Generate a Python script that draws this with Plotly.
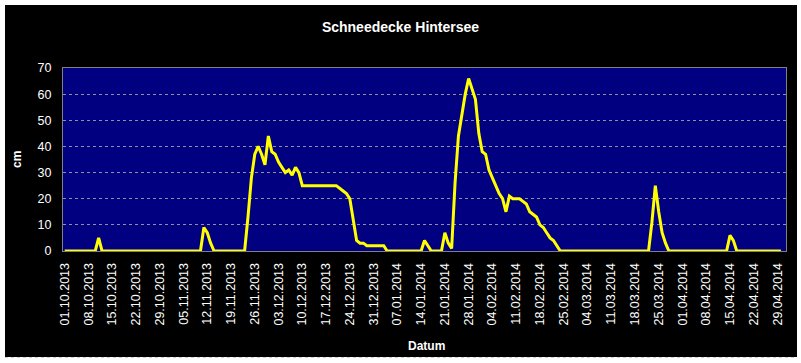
import pandas as pd
import plotly.graph_objects as go

# Daily snow depth (cm), Hintersee, 01.10.2013 - 30.04.2014
oct_2013 = [0, 0, 0, 0, 0, 0, 0, 0, 0, 0, 5, 0, 0, 0, 0, 0, 0, 0, 0, 0,
            0, 0, 0, 0, 0, 0, 0, 0, 0, 0, 0]
nov_2013 = [0, 0, 0, 0, 0, 0, 0, 0, 0, 0, 9, 7, 3, 0, 0, 0, 0, 0, 0, 0,
            0, 0, 0, 13, 28, 37, 40, 37, 33, 44]
dec_2013 = [38, 37, 34, 32, 30, 31, 29, 32, 30, 25, 25, 25, 25, 25, 25, 25, 25, 25, 25, 25,
            24, 23, 22, 20, 11, 4, 3, 3, 2, 2, 2]
jan_2014 = [2, 2, 2, 0, 0, 0, 0, 0, 0, 0, 0, 0, 0, 0, 4, 2, 0, 0, 0, 0,
            7, 3, 1, 26, 44, 52, 60, 66, 62, 58, 45]
feb_2014 = [38, 37, 31, 28, 25, 22, 20, 15, 21, 20, 20, 20, 19, 18, 15, 14, 13, 10, 9, 7,
            5, 4, 2, 0, 0, 0, 0, 0]
mar_2014 = [0, 0, 0, 0, 0, 0, 0, 0, 0, 0, 0, 0, 0, 0, 0, 0, 0, 0, 0, 0,
            0, 0, 11, 25, 15, 7, 3, 0, 0, 0, 0]
apr_2014 = [0, 0, 0, 0, 0, 0, 0, 0, 0, 0, 0, 0, 0, 0, 6, 4, 0, 0, 0, 0,
            0, 0, 0, 0, 0, 0, 0, 0, 0, 0]

snow_cm = oct_2013 + nov_2013 + dec_2013 + jan_2014 + feb_2014 + mar_2014 + apr_2014
dates = pd.date_range("2013-10-01", periods=len(snow_cm), freq="D")
tick_dates = pd.date_range("2013-10-01", "2014-04-29", freq="7D")
tick_labels = [d.strftime("%d.%m.%Y") for d in tick_dates]
y_ticks = [0, 10, 20, 30, 40, 50, 60, 70]

title_text = "Schneedecke Hintersee"
x_title = "Datum"
y_title = "cm"

FONT = "Liberation Sans, Arial, sans-serif"
W, H = 801, 363
L, R, T, B = 63, 15, 68, 112
pw, ph = W - L - R, H - T - B


def px_x(px):
    return (px - L) / pw


def px_y(py):
    return (H - B - py) / ph


fig = go.Figure()
fig.add_trace(go.Scatter(
    x=dates, y=snow_cm, mode="lines",
    line=dict(color="#FFFF00", width=3),
    hoverinfo="x+y", showlegend=False,
))

fig.update_layout(
    width=W, height=H,
    margin=dict(l=L, r=R, t=T, b=B, pad=0),
    paper_bgcolor="white",
    plot_bgcolor="#000080",
    font=dict(family=FONT, color="white", size=12),
    title=dict(text="<b>" + title_text + "</b>", x=0.5, xanchor="center",
               y=1 - 27 / H, yanchor="middle", yref="container",
               font=dict(family=FONT, size=14, color="white")),
    shapes=[
        dict(type="rect", xref="paper", yref="paper",
             x0=px_x(5), x1=px_x(797), y0=px_y(357), y1=px_y(5),
             fillcolor="black", line=dict(width=0), layer="below"),
        dict(type="rect", xref="paper", yref="paper",
             x0=0, x1=1, y0=0, y1=1,
             fillcolor="#000080", line=dict(width=0), layer="below"),
        dict(type="line", xref="paper", yref="paper",
             x0=px_x(5), x1=px_x(797), y0=px_y(357.5), y1=px_y(357.5),
             line=dict(color="#d0d0d0", width=1, dash="dot")),
    ],
    annotations=[
        dict(text="<b>" + y_title + "</b>", xref="paper", yref="paper",
             x=px_x(17), y=px_y(160), textangle=-90, showarrow=False,
             xanchor="center", yanchor="middle",
             font=dict(family=FONT, size=12, color="white")),
        dict(text="<b>" + x_title + "</b>", xref="paper", yref="paper",
             x=px_x(426), y=px_y(346), showarrow=False,
             xanchor="center", yanchor="middle",
             font=dict(family=FONT, size=12, color="white")),
    ],
)

fig.update_xaxes(
    type="date",
    range=["2013-09-30 12:00", "2014-05-01 12:00"],
    tickmode="array", tickvals=tick_dates, ticktext=tick_labels,
    tickangle=-90, tickfont=dict(family=FONT, size=12.5, color="white"),
    ticks="", ticklabelstandoff=6,
    showgrid=False, zeroline=False,
    showline=True, linecolor="#808080", linewidth=1, mirror=True,
    fixedrange=True,
)
fig.update_yaxes(
    range=[0, 70], tickmode="array", tickvals=y_ticks,
    tickfont=dict(family=FONT, size=12.5, color="white"),
    ticks="", ticklabelstandoff=8,
    showgrid=True, gridcolor="#9090a0", gridwidth=1, griddash="dot",
    zeroline=False,
    showline=True, linecolor="#808080", linewidth=1, mirror=True,
    fixedrange=True,
)

fig.write_html("out.html")
